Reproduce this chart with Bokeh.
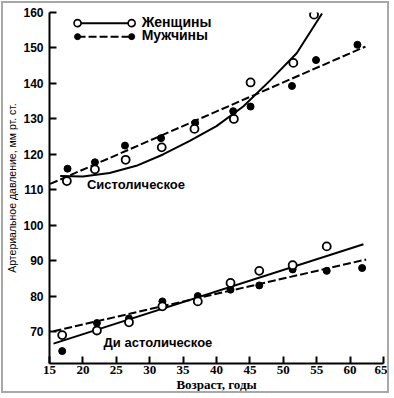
import numpy as np
from bokeh.plotting import figure
from bokeh.models import Range1d, Label, FixedTicker
from bokeh.embed import file_html
from bokeh.resources import INLINE

# ---------------- data ----------------
x_ticks = [15, 20, 25, 30, 35, 40, 45, 50, 55, 60, 65]
y_ticks = [70, 80, 90, 100, 110, 120, 130, 140, 150, 160]

# Systolic pressure
sys_w_age = [17.6, 21.8, 26.4, 31.8, 36.7, 42.6, 45.1, 51.5, 54.6]
sys_w_bp = [112.5, 115.8, 118.5, 122.0, 127.2, 130.0, 140.3, 145.8, 159.4]
sys_m_age = [17.7, 21.8, 26.3, 31.7, 36.8, 42.5, 45.1, 51.3, 54.9, 61.1]
sys_m_bp = [116.0, 117.8, 122.5, 124.6, 128.9, 132.2, 133.5, 139.3, 146.6, 150.9]
sys_w_fit_age = [16.6, 20, 24, 28, 32, 36, 40, 44, 48, 52, 55.8]
sys_w_fit_bp = [113.9, 113.8, 114.8, 116.8, 120.0, 123.8, 128.0, 133.5, 140.8, 148.5, 159.7]
sys_m_fit_age = [15.1, 62.3]
sys_m_fit_bp = [111.7, 150.4]

# Diastolic pressure
dia_w_age = [16.9, 22.1, 26.9, 31.9, 37.2, 42.1, 46.4, 51.4, 56.5]
dia_w_bp = [69.1, 70.4, 72.7, 77.2, 78.6, 83.8, 87.2, 88.8, 94.1]
dia_m_age = [16.9, 22.1, 26.9, 31.9, 37.2, 42.1, 46.4, 51.4, 56.5, 61.8]
dia_m_bp = [64.6, 72.5, 73.8, 78.6, 80.1, 81.9, 83.1, 87.6, 87.2, 88.0]
dia_w_fit_age = [15.6, 62.0]
dia_w_fit_bp = [66.7, 94.7]
dia_m_fit_age = [15.6, 62.4]
dia_m_fit_bp = [70.2, 90.4]

series_names = ["Женщины", "Мужчины"]

# ---------------- figure ----------------
SANS = "Liberation Sans"
SERIF = "Liberation Serif"
DASH = "8 3"

p = figure(width=388, height=392,
           x_range=Range1d(15, 65), y_range=Range1d(61.1, 160),
           output_backend="svg", toolbar_location=None,
           min_border_left=46, min_border_right=8,
           min_border_top=9, min_border_bottom=32)
p.styles = {"border": "2px solid #a8a8a8", "margin": "1px 0 0 1px"}
p.outline_line_color = None
p.grid.visible = False
p.background_fill_color = "white"
p.border_fill_color = "white"

xa = p.xaxis[0]
xa.ticker = FixedTicker(ticks=x_ticks)
xa.major_tick_in = 7
xa.major_tick_out = 0
xa.minor_tick_line_color = None
xa.axis_line_width = 2
xa.major_tick_line_width = 2
xa.major_label_text_font = SERIF
xa.major_label_text_font_style = "bold"
xa.major_label_text_font_size = "13px"
xa.major_label_text_color = "black"
xa.major_label_standoff = 2
xa.axis_label = "Возраст, годы"
xa.axis_label_text_font = SERIF
xa.axis_label_text_font_style = "bold"
xa.axis_label_text_font_size = "13px"
xa.axis_label_text_color = "black"
xa.axis_label_standoff = 0

ya = p.yaxis[0]
ya.ticker = FixedTicker(ticks=y_ticks)
ya.major_tick_in = 7
ya.major_tick_out = 0
ya.minor_tick_line_color = None
ya.axis_line_width = 2
ya.major_tick_line_width = 2
ya.major_label_text_font = SANS
ya.major_label_text_font_style = "bold"
ya.major_label_text_font_size = "12px"
ya.major_label_text_color = "black"
ya.major_label_standoff = 6
ya.axis_label = "Артериальное давление, мм рт. ст."
ya.axis_label_text_font = SANS
ya.axis_label_text_font_style = "normal"
ya.axis_label_text_font_size = "10.5px"
ya.axis_label_text_color = "black"
ya.axis_label_standoff = 2

# fitted lines
p.line(sys_w_fit_age, sys_w_fit_bp, line_width=2, line_color="black")
p.line(sys_m_fit_age, sys_m_fit_bp, line_width=2, line_color="black", line_dash=DASH)
p.line(dia_w_fit_age, dia_w_fit_bp, line_width=2, line_color="black")
p.line(dia_m_fit_age, dia_m_fit_bp, line_width=2, line_color="black", line_dash=DASH)

# observed points
for ax_, ay_ in [(sys_m_age, sys_m_bp), (dia_m_age, dia_m_bp)]:
    p.scatter(ax_, ay_, marker="circle", size=7, fill_color="black", line_color="black")
for ax_, ay_ in [(sys_w_age, sys_w_bp), (dia_w_age, dia_w_bp)]:
    p.scatter(ax_, ay_, marker="circle", size=8, fill_color="white",
              line_color="black", line_width=1.8)

# legend key (top left)
leg_x = [19.2, 27.3]
leg_y_w = 157.0
leg_y_m = 153.2
p.line(leg_x, [leg_y_w, leg_y_w], line_width=2, line_color="black")
p.line(leg_x, [leg_y_m, leg_y_m], line_width=2, line_color="black", line_dash=DASH)
p.scatter(leg_x, [leg_y_w, leg_y_w], marker="circle", size=7, fill_color="white",
          line_color="black", line_width=1.6)
p.scatter(leg_x, [leg_y_m, leg_y_m], marker="circle", size=6, fill_color="black",
          line_color="black")
for name, yy in zip(series_names, [leg_y_w + 0.4, leg_y_m + 0.4]):
    p.add_layout(Label(x=28.8, y=yy, text=name, text_font=SANS, text_font_style="bold",
                       text_font_size="14px", text_baseline="middle", text_color="black"))

# curve captions
p.add_layout(Label(x=20.6, y=111.5, text="Систолическое", text_font=SANS,
                   text_font_style="bold", text_font_size="13px",
                   text_baseline="middle", text_color="black"))
p.add_layout(Label(x=23.1, y=66.9, text="Ди астолическое", text_font=SANS,
                   text_font_style="bold", text_font_size="13px",
                   text_baseline="middle", text_color="black"))

open("out.html", "w").write(file_html(p, INLINE))
